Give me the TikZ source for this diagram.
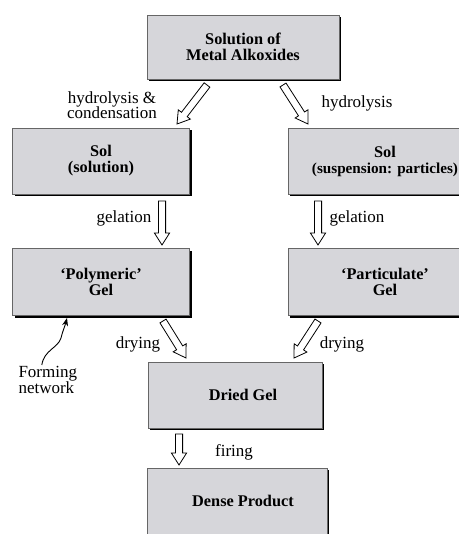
\documentclass[tikz,border=0pt]{standalone}
\usepackage{fontspec}
\setmainfont{Liberation Serif}
\usetikzlibrary{calc,shadows,arrows.meta}

\definecolor{boxgray}{HTML}{D6D6DA}
\newcommand{\shaftw}{3.6pt}
\newcommand{\headw}{7.6pt}
\newcommand{\headl}{12pt}
% hollow block arrow from #1 to #2
\newcommand{\blockarrow}[2]{%
	\draw[hollow] ($(#1)!\shaftw!90:(#2)$) -- ($(#2)!\headl!(#1)!\shaftw!-90:(#1)$)
		-- ($(#2)!\headl!(#1)!\headw!-90:(#1)$) -- (#2)
		-- ($(#2)!\headl!(#1)!\headw!90:(#1)$) -- ($(#2)!\headl!(#1)!\shaftw!90:(#1)$)
		-- ($(#1)!\shaftw!-90:(#2)$) -- cycle;}

\tikzset{
	stage/.style={draw=black!60, line width=0.5pt, fill=boxgray, align=center,
		font=\fontsize{16.3}{16}\selectfont\bfseries,
		drop shadow={shadow xshift=2pt, shadow yshift=-2pt, fill=black, opacity=1}},
	step label/.style={align=center, font=\fontsize{17}{15.5}\selectfont},
	hollow/.style={draw=black, line width=0.8pt, fill=white, line join=miter}
}

\begin{document}
\begin{tikzpicture}[x=1pt, y=-1pt]
	\useasboundingbox (0,0) rectangle (458,534);
	% boxes
	\node[stage, minimum width=192pt, minimum height=64pt] (alkox) at (243,47) {Solution of\\Metal Alkoxides};
	\node[stage, minimum width=177pt, minimum height=66pt] (solA) at (101,161) {Sol\\(solution)};
	\node[stage, minimum width=194pt, minimum height=66pt] (solB) at (385,161) {Sol\\{\fontsize{15.2}{16}\selectfont(suspension: particles)}};
	\node[stage, minimum width=177pt, minimum height=67pt] (gelA) at (101,282) {`Polymeric'\\Gel};
	\node[stage, minimum width=194pt, minimum height=67pt] (gelB) at (385,282) {`Particulate'\\Gel};
	\node[stage, minimum width=174pt, minimum height=66pt] (dried) at (235,395) {\hspace*{16pt}Dried Gel};
	\node[stage, minimum width=180pt, minimum height=66pt] (dense) at (237,501) {\hspace*{12pt}Dense Product};

	% arrow ends
	\coordinate (hydA1) at (207,85);  \coordinate (hydA2) at (177,124);
	\coordinate (hydB1) at (283,85);  \coordinate (hydB2) at (308,124);
	\coordinate (gelA1) at (162,201); \coordinate (gelA2) at (162,245);
	\coordinate (gelB1) at (318,201); \coordinate (gelB2) at (318,245);
	\coordinate (dryA1) at (163,321); \coordinate (dryA2) at (186,358);
	\coordinate (dryB1) at (318,321); \coordinate (dryB2) at (294,358);
	\coordinate (fire1) at (179,434); \coordinate (fire2) at (179,465);

	\blockarrow{hydA1}{hydA2}
	\blockarrow{hydB1}{hydB2}
	\blockarrow{gelA1}{gelA2}
	\blockarrow{gelB1}{gelB2}
	\blockarrow{dryA1}{dryA2}
	\blockarrow{dryB1}{dryB2}
	\blockarrow{fire1}{fire2}

	% labels
	\node[step label] (lhydA) at (112,105) {hydrolysis \&\\condensation};
	\node[step label] (lhydB) at (357,103) {hydrolysis};
	\node[step label] (lgelA) at (124,218) {gelation};
	\node[step label] (lgelB) at (357,218) {gelation};
	\node[step label] (ldryA) at (138,344) {drying};
	\node[step label] (ldryB) at (342,344) {drying};
	\node[step label] (lfire) at (234,452) {firing};
	\node[step label, align=left, anchor=west] (lform) at (15,380) {Forming\\network};

	% forming network pointer
	\coordinate (formtip) at (67,318);
	\draw[line width=0.9pt, -{Stealth[length=8pt, width=6pt]}] ([xshift=-6pt,yshift=-2pt]lform.north)
		.. controls (44,350) and (58,348) .. (61,338) .. controls (63,330) and (65,326) .. (formtip);
\end{tikzpicture}
\end{document}
